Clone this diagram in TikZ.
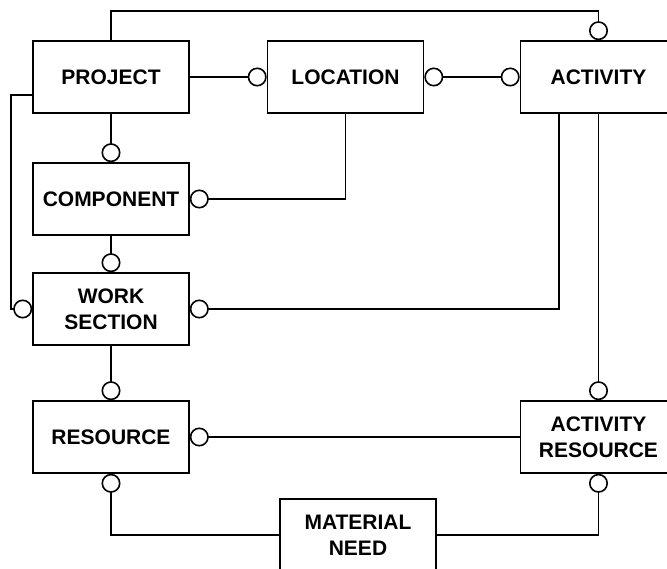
\documentclass[tikz,border=0pt]{standalone}
\usepackage{fontspec}
\setmainfont{Liberation Sans}
\usetikzlibrary{arrows.meta}

\begin{document}
\begin{tikzpicture}[%
  x=1pt, y=-1pt,
  >={Circle[open,length=19pt,width=19pt]},
  line width=1.6pt,
  entity/.style={draw, minimum width=156pt, minimum height=72pt, inner sep=0pt,
    align=center, font=\bfseries\fontsize{21}{26}\selectfont},
]

  \useasboundingbox (0,0) rectangle (667,569);
  \clip (0,0) rectangle (667,569);

  \node[entity] (project)   at (111,77)     {PROJECT};
  \node[entity] (location)  at (345.5,77)   {LOCATION};
  \node[entity] (activity)  at (598.5,77)   {ACTIVITY};
  \node[entity] (component) at (111,199)    {COMPONENT};
  \node[entity] (worksec)   at (111,309)    {WORK\\SECTION};
  \node[entity] (resource)  at (111,437)    {RESOURCE};
  \node[entity] (actres)    at (598.5,437)  {ACTIVITY\\RESOURCE};
  \node[entity] (matneed)   at (358,535)    {MATERIAL\\NEED};

  % top row
  \draw[->] (project.north) -- ++(0,-29) -| (activity.north);
  \draw[->] (project.east) -- (location.west);
  \draw[<->] (location.east) -- (activity.west);

  % left column
  \draw[->] (project.south) -- (component.north);
  \draw[->] (component.south) -- (worksec.north);
  \draw[->] (worksec.south) -- (resource.north);
  \draw[->] ([yshift=-18pt]project.west) -- ++(-21,0) |- (worksec.west);

  \draw[->] (location.south) |- (component.east);
  \draw[->] ([xshift=-39.5pt]activity.south) |- (worksec.east);
  \draw[->] (activity.south) -- (actres.north);
  \draw[->] (actres.west) -- (resource.east);

  % bottom
  \draw[->] (matneed.west) -| (resource.south);
  \draw[->] (matneed.east) -| (actres.south);

\end{tikzpicture}
\end{document}
